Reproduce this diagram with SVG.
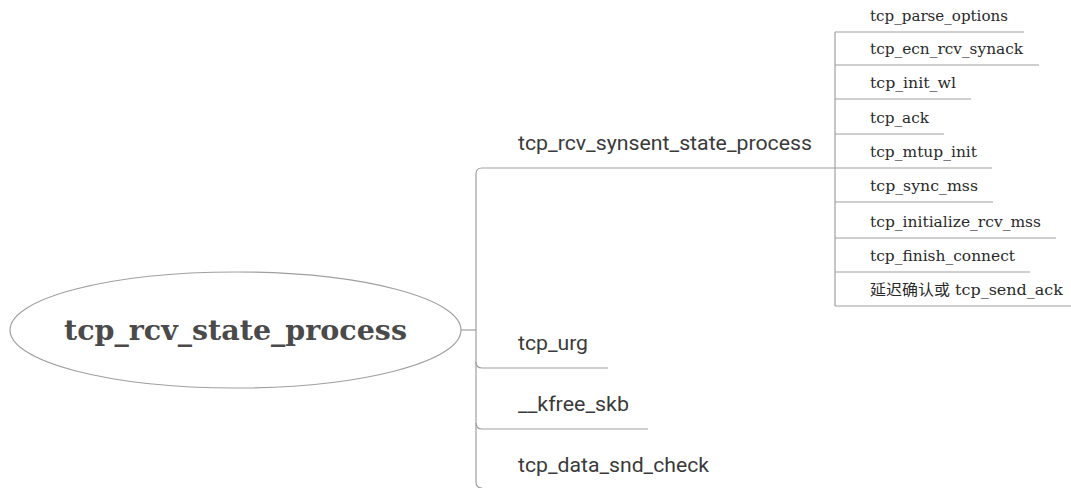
<svg xmlns="http://www.w3.org/2000/svg" width="1071" height="488" viewBox="0 0 1071 488">
<style>
.ln{fill:none;stroke:#a0a0a0;stroke-width:1.2}
.root{font-family:"DejaVu Serif","Liberation Serif",serif;font-weight:bold;font-size:28.5px;fill:#4a4a4a}
.mid{font-family:Roboto,"Liberation Sans",sans-serif;font-size:21px;fill:#3a3a3a}
.leaf{font-family:"DejaVu Serif","Liberation Serif","Noto Sans CJK SC",serif;font-size:15px;fill:#2a2a2a}
</style>
<rect width="1071" height="488" fill="#fff"/>
<g id="connectors">
<path class="ln" d="M461,330 H476"/>
<path class="ln" d="M835,168 H482 Q476,168 476,174 V482 Q476,488 482,488"/>
<path class="ln" d="M476,362 Q476,368 482,368 H608"/>
<path class="ln" d="M476,423 Q476,429 482,429 H648"/>
<path class="ln" d="M835,32 V306"/>
<path class="ln" d="M835,32 H1024 M835,65 H1039 M835,99 H971 M835,134 H944 M835,168 H992 M835,202 H993 M835,238 H1056 M835,272 H1030 M835,306 H1071"/>
</g>
<g id="root"><ellipse cx="235.5" cy="330" rx="225.5" ry="58" fill="#fff" class="ln"/><text class="root" x="64" y="340" textLength="343" lengthAdjust="spacingAndGlyphs">tcp_rcv_state_process</text></g>
<g id="n_synsent"><text class="mid" x="518" y="150" textLength="294" lengthAdjust="spacingAndGlyphs">tcp_rcv_synsent_state_process</text></g>
<g id="n_urg"><text class="mid" x="518" y="350" textLength="70" lengthAdjust="spacingAndGlyphs">tcp_urg</text></g>
<g id="n_kfree"><text class="mid" x="518" y="411" textLength="111" lengthAdjust="spacingAndGlyphs">__kfree_skb</text></g>
<g id="n_data"><text class="mid" x="518" y="472" textLength="191" lengthAdjust="spacingAndGlyphs">tcp_data_snd_check</text></g>
<g id="l1"><text class="leaf" x="870" y="21" textLength="138" lengthAdjust="spacingAndGlyphs">tcp_parse_options</text></g>
<g id="l2"><text class="leaf" x="870" y="54" textLength="153" lengthAdjust="spacingAndGlyphs">tcp_ecn_rcv_synack</text></g>
<g id="l3"><text class="leaf" x="870" y="88" textLength="86" lengthAdjust="spacingAndGlyphs">tcp_init_wl</text></g>
<g id="l4"><text class="leaf" x="870" y="123" textLength="59" lengthAdjust="spacingAndGlyphs">tcp_ack</text></g>
<g id="l5"><text class="leaf" x="870" y="157" textLength="107" lengthAdjust="spacingAndGlyphs">tcp_mtup_init</text></g>
<g id="l6"><text class="leaf" x="870" y="191" textLength="108" lengthAdjust="spacingAndGlyphs">tcp_sync_mss</text></g>
<g id="l7"><text class="leaf" x="870" y="227" textLength="171" lengthAdjust="spacingAndGlyphs">tcp_initialize_rcv_mss</text></g>
<g id="l8"><text class="leaf" x="870" y="261" textLength="145" lengthAdjust="spacingAndGlyphs">tcp_finish_connect</text></g>
<g id="l9"><text class="leaf" x="870" y="295" textLength="193" lengthAdjust="spacingAndGlyphs">延迟确认或 tcp_send_ack</text></g>
</svg>
